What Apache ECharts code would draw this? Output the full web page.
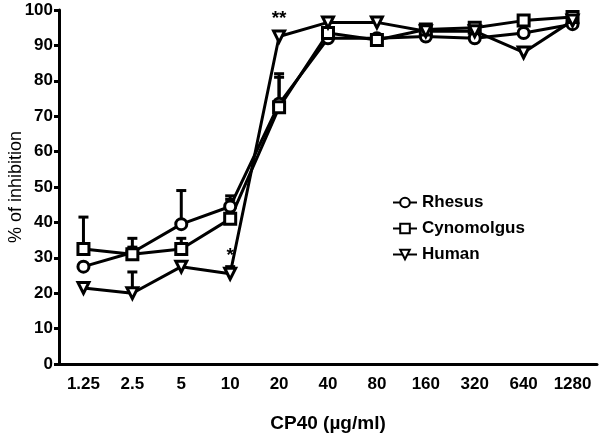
<!DOCTYPE html>
<html>
<head>
<meta charset="utf-8">
<script src="https://cdn.jsdelivr.net/npm/echarts@6/dist/echarts.min.js"></script>
<style>
html,body{margin:0;padding:0;background:#fff;}
#chart{width:601px;height:433px;}
</style>
</head>
<body>
<div id="chart"></div>
<script>
const categories = ['1.25','2.5','5','10','20','40','80','160','320','640','1280'];
const rhesus     = [27.5, 31.5, 39.5, 44.5, 73.5, 92, 92, 92.5, 92, 93.5, 96];
const cynomolgus = [32.5, 31, 32.5, 41, 72.5, 93.5, 91.5, 94.5, 95, 97, 98];
const human      = [21.5, 20, 27.5, 25.5, 92.5, 96.5, 96.5, 94, 94, 88, 97];
const rhesusErr     = [null, 1.5, 9.5, 3, 8.5, null, null, null, null, null, 1.5];
const cynomolgusErr = [9, 4.5, 3, 5.5, 8.5, null, null, null, null, null, 1.5];
const humanErr      = [null, 6, null, 2, null, null, null, null, null, null, null];
const humanMarks    = [null, null, null, '*', '**', null, null, null, null, null, null];
const yTicks = [0,10,20,30,40,50,60,70,80,90,100];

const FONT = 'Liberation Sans, Arial, Helvetica, sans-serif';

function errData(vals, errs){
  const out = [];
  vals.forEach((v,i)=>{ if(errs[i] != null) out.push([i, v, errs[i]]); });
  return out;
}
function errSeries(name, vals, errs){
  return {
    name: name, type: 'custom', z: 1,
    data: errData(vals, errs),
    encode: {x: 0, y: 1},
    renderItem: function(params, api){
      const x = api.value(0), v = api.value(1), e = api.value(2);
      const p0 = api.coord([x, v]);
      const p1 = api.coord([x, v + e]);
      return {type:'group', children:[
        {type:'line', shape:{x1:p0[0],y1:p0[1],x2:p1[0],y2:p1[1]}, style:{stroke:'#000',lineWidth:3}},
        {type:'line', shape:{x1:p1[0]-5,y1:p1[1],x2:p1[0]+5,y2:p1[1]}, style:{stroke:'#000',lineWidth:3}}
      ]};
    }
  };
}
function lineSeries(name, vals, symbol, rotate){
  return {
    name: name, type: 'line', z: 3,
    data: vals,
    symbol: symbol, symbolSize: 11, symbolRotate: rotate || 0,
    showAllSymbol: true,
    lineStyle: {color:'#000', width:3},
    itemStyle: {color:'#fff', borderColor:'#000', borderWidth:3},
    emphasis: {disabled: true},
    animation: false
  };
}

const humanSeries = lineSeries('Human', human.map((v,i)=>{
  if(humanMarks[i]) return {value:v, label:{show:true, formatter:humanMarks[i], position:'top', distance:1, color:'#000', fontFamily:FONT, fontWeight:'bold', fontSize:19}};
  return v;
}), 'triangle', 180);

const chart = echarts.init(document.getElementById('chart'), null, {renderer:'canvas'});
chart.setOption({
  animation: false,
  backgroundColor: '#fff',
  grid: {left: 59, right: 4, top: 10, bottom: 69, containLabel: false, outerBoundsMode: 'none'},
  legend: {
    data: ['Rhesus','Cynomolgus','Human'],
    orient: 'vertical', left: 387, top: 189,
    itemWidth: 24, itemHeight: 12, itemGap: 9,
    textStyle: {color:'#000', fontFamily: FONT, fontWeight:'bold', fontSize:17}
  },
  xAxis: {
    type: 'category', data: categories, boundaryGap: true,
    name: 'CP40 (µg/ml)', nameLocation: 'middle', nameGap: 50, nameMoveOverlap: false,
    nameTextStyle: {color:'#000', fontFamily: FONT, fontWeight:'bold', fontSize:19},
    axisLine: {lineStyle:{color:'#000', width:3}},
    axisTick: {alignWithLabel:true, length:5, lineStyle:{color:'#000', width:3}},
    axisLabel: {color:'#000', fontFamily: FONT, fontWeight:'bold', fontSize:17, margin:12, interval:0},
    splitLine: {show:false}
  },
  yAxis: {
    type: 'value', min: 0, max: 100, interval: 10,
    name: '% of inhibition', nameLocation: 'middle', nameGap: 34, nameRotate: 90, nameMoveOverlap: false,
    nameTextStyle: {color:'#000', fontFamily: FONT, fontSize:18},
    axisLine: {show:true, lineStyle:{color:'#000', width:3}},
    axisTick: {show:true, length:5, lineStyle:{color:'#000', width:3}},
    axisLabel: {color:'#000', fontFamily: FONT, fontWeight:'bold', fontSize:17, margin:6,
      formatter: v => yTicks.includes(v) ? String(v) : ''},
    splitLine: {show:false}
  },
  series: [
    errSeries('errR', rhesus, rhesusErr),
    errSeries('errC', cynomolgus, cynomolgusErr),
    errSeries('errH', human, humanErr),
    lineSeries('Rhesus', rhesus, 'circle'),
    lineSeries('Cynomolgus', cynomolgus, 'rect'),
    humanSeries
  ]
});
</script>
</body>
</html>
